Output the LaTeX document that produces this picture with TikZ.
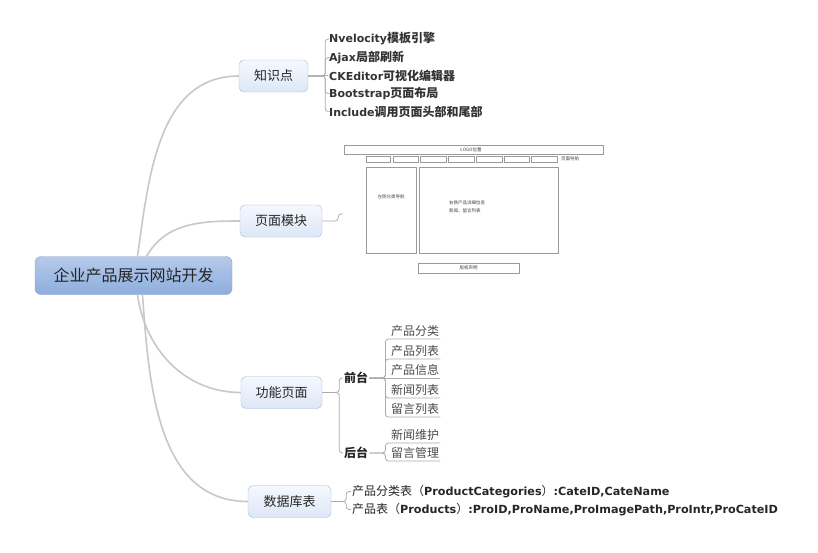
\documentclass[tikz,border=0pt]{standalone}
\usepackage{fontspec}
\setmainfont{Noto Sans CJK SC}
\newfontfamily\latfont{DejaVu Sans}
\usepackage{tikz}
\usetikzlibrary{calc}
\definecolor{RootTop}{HTML}{B6CAEB}
\definecolor{RootBot}{HTML}{8EADDD}
\definecolor{RootEdge}{HTML}{8DA4CA}
\definecolor{TopicTop}{HTML}{F5F8FE}
\definecolor{TopicBot}{HTML}{DDE7F7}
\definecolor{TopicEdge}{HTML}{A8BAD5}
\definecolor{CurveGray}{HTML}{C8C8C8}
\definecolor{BranchGray}{HTML}{ABABAB}
\definecolor{WireGray}{HTML}{9A9A9A}
\newcommand\engl[1]{{\latfont\bfseries\fontsize{11}{12}\selectfont #1}}
\newcommand\engb[1]{{\latfont\bfseries\fontsize{11.2}{12}\selectfont #1}}
\tikzset{
  rootnode/.style={draw=RootEdge, rounded corners=6pt, top color=RootTop, bottom color=RootBot,
    minimum width=197pt, minimum height=38pt, font=\fontsize{16}{18}\selectfont, text=black!85},
  topic/.style={draw=TopicEdge, rounded corners=5pt, top color=TopicTop, bottom color=TopicBot,
    minimum height=32pt, font=\fontsize{13}{15}\selectfont, text=black!85},
  curve/.style={draw=CurveGray, line width=1.6pt},
  branch/.style={draw=BranchGray, line width=0.8pt, rounded corners=3pt},
  kpoint/.style={anchor=west, inner sep=1pt, font=\fontsize{12}{14}\selectfont\bfseries, text=black!80},
  side/.style={anchor=west, inner sep=1pt, font=\fontsize{12}{14}\selectfont\bfseries, text=black!85},
  leaf/.style={anchor=south west, inner xsep=1pt, inner ysep=2pt, font=\fontsize{12}{14}\selectfont, text=black!70},
  tableline/.style={anchor=west, inner sep=1pt, font=\fontsize{12}{14}\selectfont, text=black!85},
  wire/.style={draw=WireGray, line width=0.7pt},
  wiretext/.style={font=\fontsize{4.5}{5}\selectfont, text=black!75, inner sep=0pt}
}

\begin{document}
\begin{tikzpicture}[x=1pt, y=-1pt]
  \useasboundingbox[fill=white] (0,0) rectangle (818,552);
  % central topic and main topics
  \node[rootnode] (root) at (133.5,275.5) {企业产品展示网站开发};
  \node[topic, minimum width=69pt] (zsd) at (273.5,76) {知识点};
  \node[topic, minimum width=82pt] (ymmk) at (281,221) {页面模块};
  \node[topic, minimum width=81pt] (gnym) at (281.5,392.5) {功能页面};
  \node[topic, minimum width=83pt] (sjkb) at (289.5,501.5) {数据库表};
  \draw[curve] ([xshift=4pt]root.north) to[out=82, in=180] (zsd.west);
  \draw[curve] ([xshift=13pt]root.north) to[out=60, in=180] (ymmk.west);
  \draw[curve] ([xshift=4pt]root.south) to[out=-82, in=180] (gnym.west);
  \draw[curve] ([xshift=9pt]root.south) to[out=-86, in=180] (sjkb.west);

  % knowledge points
  \node[kpoint] (k1) at (328,39) {\engl{Nvelocity}模板引擎};
  \node[kpoint] (k2) at (328,57.5) {\engl{Ajax}局部刷新};
  \node[kpoint] (k3) at (328,75.5) {\engl{CKEditor}可视化编辑器};
  \node[kpoint] (k4) at (328,93.5) {\engl{Bootstrap}页面布局};
  \node[kpoint] (k5) at (328,111.5) {\engl{Include}调用页面头部和尾部};
  \draw[branch] (zsd.east) -- ++(17,0) |- (k1.west);
  \draw[branch] (zsd.east) -- ++(17,0) |- (k2.west);
  \draw[branch] (zsd.east) -- (k3.west);
  \draw[branch] (zsd.east) -- ++(17,0) |- (k4.west);
  \draw[branch] (zsd.east) -- ++(17,0) |- (k5.west);

  % page layout sketch
  \coordinate (imgin) at (343,214);
  \draw[branch] (ymmk.east) -- ++(16,0) |- (imgin);
  \draw[wire] (344,145) rectangle (603,154);
  \node[wiretext] (logo) at (471,149.5) {LOGO位置};
  \draw[wire] (366,156) rectangle (390,162) (393,156) rectangle (418,162)
    (420,156) rectangle (446,162) (448,156) rectangle (474,162)
    (476,156) rectangle (502,162) (504,156) rectangle (529,162)
    (531,156) rectangle (557,162);
  \node[wiretext, anchor=west] (nav) at (561,159) {页面导航};
  \draw[wire] (366,167) rectangle (416,253);
  \node[wiretext] (leftnav) at (391,197) {左侧分类导航};
  \draw[wire] (419,167) rectangle (558,253);
  \node[wiretext, anchor=west] (main1) at (449,203) {右侧产品详细信息};
  \node[wiretext, anchor=west] (main2) at (449,211) {新闻、留言列表};
  \draw[wire] (418,263) rectangle (519,273);
  \node[wiretext] (foot) at (468.5,268) {版权声明};

  % function pages
  \node[side] (qt) at (343,378) {前台};
  \node[side] (ht) at (343,453) {后台};
  \draw[branch] (gnym.east) -- ++(17,0) |- (qt.west);
  \draw[branch] (gnym.east) -- ++(17,0) |- (ht.west);
  \node[leaf] (f1) at (390,339) {产品分类};
  \node[leaf] (f2) at (390,359) {产品列表};
  \node[leaf] (f3) at (390,378) {产品信息};
  \node[leaf] (f4) at (390,398) {新闻列表};
  \node[leaf] (f5) at (390,417) {留言列表};
  \draw[branch] (qt.east) -- ++(16,0) |- (f1.south east);
  \draw[branch] (qt.east) -- ++(16,0) |- (f2.south east);
  \draw[branch] (qt.east) -- (f3.south east);
  \draw[branch] (qt.east) -- ++(16,0) |- (f4.south east);
  \draw[branch] (qt.east) -- ++(16,0) |- (f5.south east);
  \node[leaf] (b1) at (390,443) {新闻维护};
  \node[leaf] (b2) at (390,461) {留言管理};
  \draw[branch] (ht.east) -- ++(16,0) |- (b1.south east);
  \draw[branch] (ht.east) -- ++(16,0) |- (b2.south east);

  % database tables
  \node[tableline] (d1) at (351,491.5) {产品分类表（\engb{ProductCategories}）\engb{:CateID,CateName}};
  \node[tableline] (d2) at (351,509.5) {产品表（\engb{Products}）\engb{:ProID,ProName,ProImagePath,ProIntr,ProCateID}};
  \draw[branch] (sjkb.east) -- ++(15,0) |- (d1.west);
  \draw[branch] (sjkb.east) -- ++(15,0) |- (d2.west);
\end{tikzpicture}
\end{document}
